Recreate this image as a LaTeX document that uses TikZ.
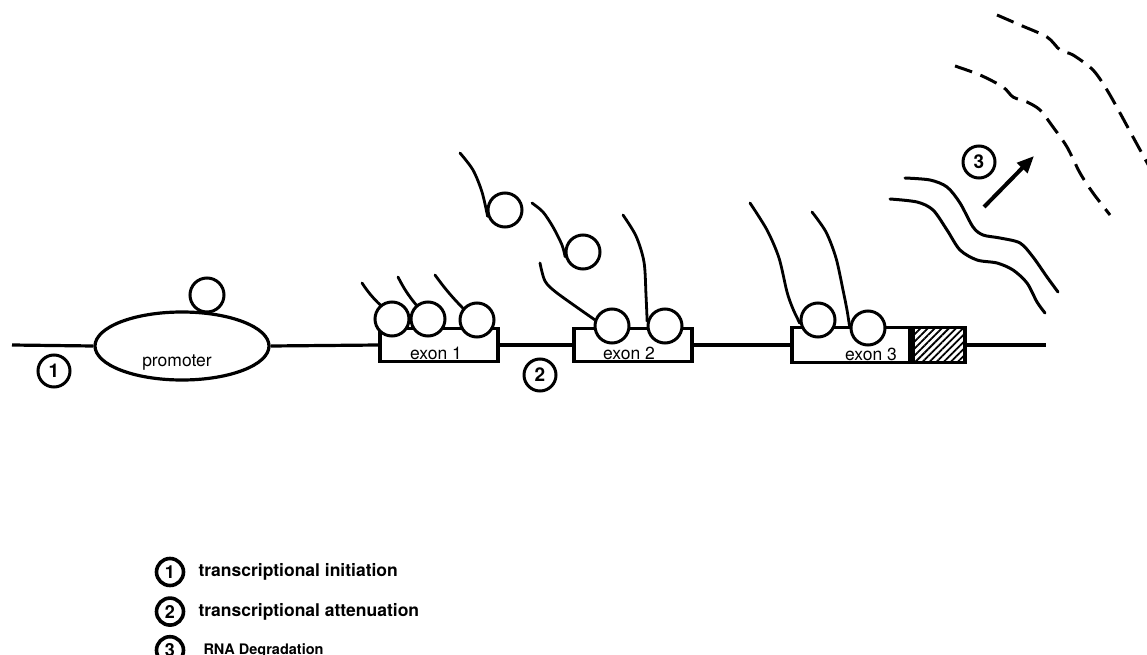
\documentclass[tikz,border=0pt]{standalone}
\usepackage{fontspec}
\setmainfont{TeX Gyre Heros}
\usetikzlibrary{positioning,shapes.geometric,arrows.meta,patterns.meta}

\tikzset{
  dna/.style={line width=3.2pt},
  tail/.style={line width=2.8pt, line cap=round},
  rna/.style={line width=3pt, line cap=round},
  deg/.style={line width=3pt, dash pattern=on 18pt off 9pt},
  pol/.style={circle, draw, fill=white, line width=3pt, minimum size=34pt, inner sep=0pt},
  num/.style={circle, draw, line width=3pt, minimum size=32pt, inner sep=0pt,
    font=\bfseries\fontsize{19}{19}\selectfont},
  legnum/.style={circle, draw, line width=3.6pt, minimum size=27pt, inner sep=0pt,
    font=\bfseries\fontsize{18}{18}\selectfont},
  exonbox/.style={draw, fill=white, line width=3.2pt, minimum width=118pt,
    minimum height=33pt, inner sep=0pt},
  lbl/.style={font=\fontsize{17.5}{18}\selectfont, inner sep=0pt},
  legtxt/.style={font=\bfseries\fontsize{17.5}{18}\selectfont, inner sep=0pt}
}

\begin{document}
\begin{tikzpicture}[x=1pt,y=-1pt]
  \useasboundingbox (0,0) rectangle (1147,655);

  % gene
  \coordinate (dnaL) at (12,345);
  \coordinate (dnaR) at (1046,345);
  \node[draw, ellipse, line width=3.2pt, minimum width=174pt, minimum height=68pt] (prom) at (182,346) {};
  \node[exonbox] (ex1) at (439,345) {};
  \node[exonbox] (ex2) at (633,345) {};
  \node[exonbox, minimum height=35pt] (ex3) at (851,345) {};
  \node[draw, line width=3.2pt, minimum width=52pt, minimum height=35pt, inner sep=0pt,
    pattern={Lines[angle=45,distance=5pt,line width=1.8pt]}] (utr) at (939,345) {};

  \draw[dna] (dnaL) -- (prom.west);
  \draw[dna] (prom.east) -- (ex1.west);
  \draw[dna] (ex1.east) -- (ex2.west);
  \draw[dna] (ex2.east) -- (ex3.west);
  \draw[dna] (utr.east) -- (dnaR);

  \node[lbl] (promlbl) at (177,363) {promoter};
  \node[lbl, anchor=base] (ex1lbl) at (436,359) {exon 1};
  \node[lbl, anchor=base] (ex2lbl) at (629,359) {exon 2};
  \node[lbl, anchor=base] (ex3lbl) at (871,360) {exon 3};

  % polymerases
  \node[pol] (p0) at (207,295) {};
  \node[pol] (c11) at (392,319) {};
  \node[pol] (c12) at (428,319) {};
  \node[pol] (c13) at (477,320) {};
  \node[pol] (c21) at (612,326) {};
  \node[pol] (c22) at (665,326) {};
  \node[pol] (c31) at (818,320) {};
  \node[pol] (c32) at (868,328) {};
  \node[pol] (f1) at (505,210) {};
  \node[pol] (f2) at (583,252) {};

  % nascent transcripts
  \draw[tail] (362,283) to[bend right=6] (c11.130);
  \draw[tail] (398,277) to[bend right=6] (c12.130);
  \draw[tail] (435,275) to[bend right=4] (c13.140);
  \draw[tail] plot[smooth] coordinates {(540,263) (545,281) (557,293) (c21.160)};
  \draw[tail] plot[smooth] coordinates {(623,215) (636,236) (644,262) (646,295) (c22.165)};
  \draw[tail] plot[smooth] coordinates {(460,153) (473,170) (482,192) (f1.200)};
  \draw[tail] plot[smooth] coordinates {(532,203) (543,212) (553,227) (562,245) (f2.195)};
  \draw[tail] plot[smooth] coordinates {(750,203) (767,230) (779,258) (787,292) (793,309) (c31.190)};
  \draw[tail] plot[smooth] coordinates {(812,212) (826,232) (836,258) (843,290) (847,310) (c32.175)};

  % released mRNA and degradation
  \draw[rna] plot[smooth] coordinates {(905,178) (930,180) (947,187) (960,203) (973,227) (983,235)
    (1000,238) (1020,243) (1033,257) (1047,277) (1058,292)};
  \draw[rna] plot[smooth] coordinates {(890,199) (917,202) (933,210) (947,230) (960,250) (977,260)
    (997,263) (1013,270) (1027,283) (1037,302) (1045,313)};
  \draw[deg] plot[smooth] coordinates {(955,66) (980,75) (1003,87) (1013,97) (1027,102) (1040,110)
    (1053,127) (1067,147) (1080,173) (1093,193) (1110,215)};
  \draw[deg] plot[smooth] coordinates {(997,15) (1020,25) (1047,37) (1060,50) (1073,55) (1093,70)
    (1107,90) (1120,113) (1133,137) (1150,168)};

  \coordinate (arrS) at (984,207);
  \coordinate (arrE) at (1034,156);
  \draw[line width=4pt, -{Triangle[length=17pt,width=14pt]}] (arrS) -- (arrE);

  % step numbers
  \node[num] (n1) at (54,371) {1};
  \node[num] (n2) at (540,375) {2};
  \node[num] (n3) at (979,162) {3};

  % key
  \node[legnum] (k1) at (170,572) {1};
  \node[legnum, below=9pt of k1] (k2) {2};
  \node[legnum, below=8pt of k2] (k3) {3};
  \node[legtxt, right=13pt of k1] (k1txt) {transcriptional initiation};
  \node[legtxt, right=13pt of k2] (k2txt) {transcriptional attenuation};
  \node[legtxt, right=18pt of k3, font=\bfseries\fontsize{14.5}{15}\selectfont] (k3txt) {RNA Degradation};
\end{tikzpicture}
\end{document}
